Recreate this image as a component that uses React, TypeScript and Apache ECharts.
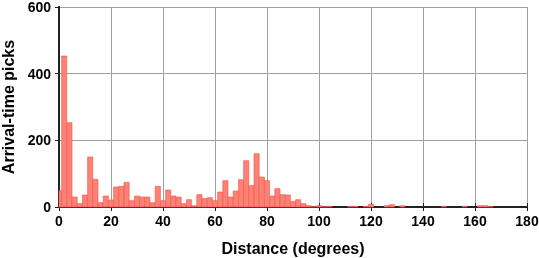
import React, { useEffect, useRef } from "react";
import * as echarts from "echarts";

// Histogram bins (bin centre in degrees, 2-degree bins)
const binCenters = [
  0, 2, 4, 6, 8, 10, 12, 14, 16, 18, 20, 22, 24, 26, 28, 30, 32, 34, 36, 38,
  40, 42, 44, 46, 48, 50, 52, 54, 56, 58, 60, 62, 64, 66, 68, 70, 72, 74, 76, 78,
  80, 82, 84, 86, 88, 90, 92, 94, 96, 98, 100, 102, 104, 112, 114, 118, 120,
  126, 128, 132, 148, 156, 162, 164, 166,
];
const pickCounts = [
  49, 453, 253, 30, 10, 36, 150, 83, 13, 33, 21, 60, 62, 74, 19, 33, 30, 30, 13, 62,
  19, 51, 33, 30, 10, 22, 4, 37, 25, 28, 19, 45, 79, 30, 48, 82, 139, 64, 160, 90,
  79, 33, 55, 37, 36, 17, 22, 10, 4, 1, 4, 1, 2, 2, 2, 2, 8,
  4, 7, 4, 2, 2, 4, 4, 1,
];
const binWidth = 2;
const xTicks = [0, 20, 40, 60, 80, 100, 120, 140, 160, 180];
const yTicks = [0, 200, 400, 600];

const FONT = "'Liberation Sans', Arial, Helvetica, sans-serif";

export default function App() {
  const ref = useRef<HTMLDivElement>(null);
  useEffect(() => {
    if (!ref.current) return;
    const chart = echarts.init(ref.current, undefined, { renderer: "svg" });
    const data = binCenters.map((c, i) => [c, pickCounts[i]]);
    const axisLine = { show: true, lineStyle: { color: "#222", width: 2 } };
    const tickStyle = { show: true, length: 4, inside: false, lineStyle: { color: "#222", width: 1 } };
    const labelStyle = { color: "#000", fontWeight: "bold" as const, fontSize: 14, fontFamily: FONT };
    const nameStyle = { color: "#000", fontWeight: "bold" as const, fontSize: 16, fontFamily: FONT };
    chart.setOption({
      animation: false,
      grid: {
        left: 59,
        right: 12,
        top: 7,
        bottom: 51,
        containLabel: false,
        outerBoundsMode: "none",
      },
      xAxis: [
        {
          type: "value",
          min: xTicks[0],
          max: xTicks[xTicks.length - 1],
          interval: 20,
          position: "bottom",
          axisLine,
          axisTick: tickStyle,
          axisLabel: { ...labelStyle, margin: 7 },
          splitLine: { show: true, lineStyle: { color: "#a0a0a0", width: 1 } },
          name: "Distance (degrees)",
          nameLocation: "middle",
          nameGap: 33,
          nameTextStyle: nameStyle,
        },
        {
          type: "value",
          min: xTicks[0],
          max: xTicks[xTicks.length - 1],
          interval: 20,
          position: "top",
          axisLine,
          axisTick: tickStyle,
          axisLabel: { show: false },
          splitLine: { show: false },
        },
      ],
      yAxis: [
        {
          type: "value",
          min: yTicks[0],
          max: yTicks[yTicks.length - 1],
          interval: 200,
          position: "left",
          axisLine,
          axisTick: tickStyle,
          axisLabel: { ...labelStyle, margin: 8 },
          splitLine: { show: true, lineStyle: { color: "#a0a0a0", width: 1 } },
          name: "Arrival-time picks",
          nameLocation: "middle",
          nameGap: 42,
          nameTextStyle: nameStyle,
        },
        {
          type: "value",
          min: yTicks[0],
          max: yTicks[yTicks.length - 1],
          interval: 200,
          position: "right",
          axisLine,
          axisTick: { show: false },
          axisLabel: { show: false },
          splitLine: { show: false },
        },
      ],
      series: [
        {
          type: "custom",
          xAxisIndex: 0,
          yAxisIndex: 0,
          data,
          z: 1,
          renderItem: (params: any, api: any) => {
            const c = api.value(0);
            const v = api.value(1);
            const p0 = api.coord([c - binWidth / 2, v]);
            const p1 = api.coord([c + binWidth / 2, 0]);
            const cs = params.coordSys;
            const shape = echarts.graphic.clipRectByRect(
              { x: p0[0], y: p0[1], width: p1[0] - p0[0], height: p1[1] - p0[1] },
              { x: cs.x, y: cs.y, width: cs.width, height: cs.height }
            );
            if (!shape) return null;
            return {
              type: "rect",
              shape,
              style: { fill: "#ff8074", stroke: "#f0554c", lineWidth: 0.6 },
            };
          },
        },
      ],
    });
    return () => chart.dispose();
  }, []);
  return (
    <div
      ref={ref}
      style={{ position: "fixed", left: 0, top: 0, width: 539, height: 258 }}
    />
  );
}
